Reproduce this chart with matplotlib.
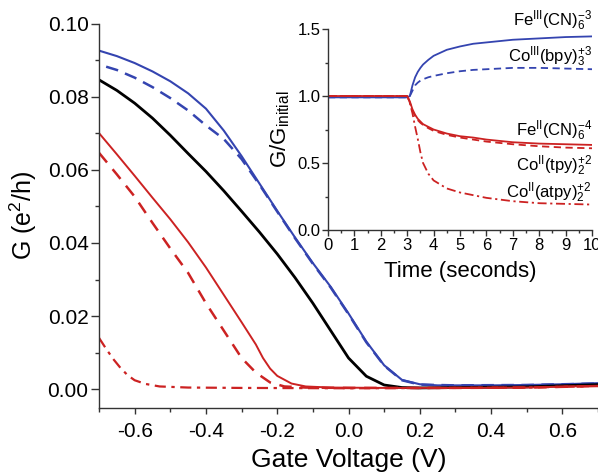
import matplotlib
matplotlib.use('Agg')
import matplotlib.pyplot as plt
from matplotlib.ticker import MultipleLocator, FormatStrFormatter

plt.rcParams['font.family'] = ['Liberation Sans', 'DejaVu Sans']
plt.rcParams['mathtext.fontset'] = 'custom'
plt.rcParams['mathtext.rm'] = 'Liberation Sans'
plt.rcParams['mathtext.it'] = 'Liberation Sans:italic'
plt.rcParams['axes.unicode_minus'] = False

#Main plot data (gate voltage sweeps)
vBlue = [-0.70, -0.65, -0.60, -0.55, -0.50, -0.45, -0.40, -0.35, -0.30, -0.25, -0.20, -0.15, -0.10, -0.05, 0.00, 0.05, 0.10, 0.15, 0.20, 0.25, 0.30, 0.40, 0.50, 0.60, 0.70]
gBlue = [0.0927, 0.0912, 0.0893, 0.0870, 0.0843, 0.0810, 0.0768, 0.0708, 0.0638, 0.0563, 0.0488, 0.0415, 0.0345, 0.0280, 0.0207, 0.0130, 0.0065, 0.0025, 0.0013, 0.0010, 0.0010, 0.0010, 0.0011, 0.0013, 0.0016]
vBlueDash = [-0.68, -0.65, -0.60, -0.55, -0.50, -0.45, -0.40, -0.35, -0.30, -0.25, -0.20, -0.15, -0.10, -0.05, 0.00, 0.05, 0.10, 0.15, 0.20, 0.30, 0.50, 0.70]
gBlueDash = [0.0883, 0.0874, 0.0853, 0.0827, 0.0797, 0.0763, 0.0722, 0.0685, 0.0630, 0.0560, 0.0486, 0.0413, 0.0343, 0.0278, 0.0205, 0.0128, 0.0064, 0.0024, 0.0012, 0.0010, 0.0011, 0.0015]
vBlack = [-0.70, -0.65, -0.60, -0.55, -0.50, -0.45, -0.40, -0.35, -0.30, -0.25, -0.20, -0.15, -0.10, -0.05, 0.00, 0.05, 0.10, 0.15, 0.20, 0.30, 0.40, 0.50, 0.60, 0.70]
gBlack = [0.0847, 0.0818, 0.0783, 0.0742, 0.0695, 0.0645, 0.0596, 0.0543, 0.0487, 0.0430, 0.0370, 0.0305, 0.0235, 0.0160, 0.0085, 0.0035, 0.0011, 0.0004, 0.0003, 0.0004, 0.0005, 0.0006, 0.0009, 0.0012]
vRed = [-0.70, -0.65, -0.60, -0.55, -0.50, -0.45, -0.40, -0.35, -0.30, -0.26, -0.24, -0.22, -0.20, -0.16, -0.12, -0.05, 0.10, 0.30, 0.50, 0.70]
gRed = [0.0701, 0.0643, 0.0584, 0.0524, 0.0465, 0.0402, 0.0333, 0.0258, 0.0183, 0.0122, 0.0085, 0.0056, 0.0036, 0.0015, 0.0007, 0.0004, 0.0003, 0.0003, 0.0004, 0.0009]
vRedDash = [-0.70, -0.65, -0.60, -0.55, -0.50, -0.45, -0.40, -0.35, -0.30, -0.26, -0.22, -0.18, -0.12, 0.00, 0.30, 0.50, 0.70]
gRedDash = [0.0647, 0.0588, 0.0527, 0.0455, 0.0385, 0.0318, 0.0235, 0.0160, 0.0085, 0.0045, 0.0018, 0.0007, 0.0004, 0.0003, 0.0003, 0.0004, 0.0008]
vRedDot = [-0.70, -0.68, -0.66, -0.64, -0.62, -0.60, -0.57, -0.53, -0.45, -0.30, 0.00, 0.30, 0.50, 0.70]
gRedDot = [0.0140, 0.0110, 0.0082, 0.0058, 0.0038, 0.0024, 0.0014, 0.0007, 0.0004, 0.0003, 0.0002, 0.0003, 0.0004, 0.0008]

#Inset data (normalised conductance vs time)
tInset = [0, 0.5, 1, 1.5, 2, 2.5, 2.9, 3.0, 3.1, 3.2, 3.3, 3.4, 3.5, 3.6, 3.8, 4.0, 4.5, 5.0, 5.5, 6.0, 7, 8, 9, 10]
feIII = [0.99, 0.99, 0.99, 0.99, 0.99, 0.99, 0.99, 0.99, 1.00, 1.08, 1.14, 1.18, 1.21, 1.235, 1.27, 1.30, 1.345, 1.37, 1.39, 1.40, 1.42, 1.43, 1.44, 1.445]
coIIIbpy = [0.99, 0.99, 0.99, 0.99, 0.99, 0.99, 0.99, 0.99, 1.00, 1.04, 1.08, 1.10, 1.115, 1.125, 1.14, 1.15, 1.17, 1.185, 1.195, 1.20, 1.21, 1.21, 1.205, 1.20]
feII = [1.0, 1.0, 1.0, 1.0, 1.0, 1.0, 1.0, 1.0, 0.96, 0.90, 0.86, 0.83, 0.81, 0.79, 0.77, 0.75, 0.72, 0.70, 0.69, 0.675, 0.655, 0.645, 0.64, 0.635]
coIItpy = [1.0, 1.0, 1.0, 1.0, 1.0, 1.0, 1.0, 1.0, 0.95, 0.89, 0.85, 0.82, 0.80, 0.785, 0.76, 0.74, 0.71, 0.69, 0.675, 0.66, 0.64, 0.625, 0.615, 0.61]
coIIatpy = [1.0, 1.0, 1.0, 1.0, 1.0, 1.0, 1.0, 1.0, 0.95, 0.87, 0.77, 0.68, 0.58, 0.50, 0.42, 0.37, 0.31, 0.28, 0.26, 0.24, 0.215, 0.20, 0.195, 0.19]

blue = '#3444b0'
red = '#cc2222'

fig = plt.figure(figsize=[5.98, 4.72], dpi=100)
ax = fig.add_axes([0.1656, 0.1356, 0.8344, 0.8136])

ax.plot(vBlue, gBlue, '-', color=blue, lw=1.5)
ax.plot(vBlueDash, gBlueDash, color=blue, lw=1.8, dashes=(5, 3))
ax.plot(vBlack, gBlack, '-', color='black', lw=2.0)
ax.plot(vRed, gRed, '-', color=red, lw=1.4)
ax.plot(vRedDash, gRedDash, color=red, lw=1.8, dashes=(5, 3.5))
ax.plot(vRedDot, gRedDot, color=red, lw=1.6, dashes=(5, 2.5, 1.5, 2.5))

ax.set_xlim(-0.7, 0.7)
ax.set_ylim(-0.0052, 0.100)
ax.xaxis.set_major_locator(MultipleLocator(0.2))
ax.xaxis.set_minor_locator(MultipleLocator(0.1))
ax.yaxis.set_major_locator(MultipleLocator(0.02))
ax.yaxis.set_minor_locator(MultipleLocator(0.01))
ax.xaxis.set_major_formatter(FormatStrFormatter('%.1f'))
ax.yaxis.set_major_formatter(FormatStrFormatter('%.2f'))
ax.spines['top'].set_visible(False)
ax.spines['right'].set_visible(False)
for s in ['left', 'bottom']:
    ax.spines[s].set_linewidth(1.0)
    ax.spines[s].set_color('#333333')
ax.tick_params(axis='y', which='major', length=6, width=1, pad=1.5, labelsize=15, color='#333333')
ax.tick_params(axis='y', which='minor', length=3, width=1, color='#333333')
ax.tick_params(axis='x', which='major', length=4, width=1, pad=6, labelsize=15, color='#333333')
ax.tick_params(axis='x', which='minor', length=3, width=1, color='#333333')
ax.set_xlabel('Gate Voltage (V)', fontsize=19, labelpad=5)
ax.set_ylabel(r'G (e$^2$/h)', fontsize=18, labelpad=6)

#Inset
axIn = fig.add_axes([0.5485, 0.5127, 0.4415, 0.4258])
axIn.set_facecolor('none')
axIn.plot(tInset, feIII, '-', color=blue, lw=1.3)
axIn.plot(tInset, coIIIbpy, color=blue, lw=1.3, dashes=(4, 2.5))
axIn.plot(tInset, feII, '-', color=red, lw=1.3)
axIn.plot(tInset, coIItpy, color=red, lw=1.3, dashes=(4, 2.5))
axIn.plot(tInset, coIIatpy, color=red, lw=1.3, dashes=(5, 2, 1.2, 2))

axIn.set_xlim(0, 10)
axIn.set_ylim(0, 1.5)
axIn.xaxis.set_major_locator(MultipleLocator(1))
axIn.xaxis.set_minor_locator(MultipleLocator(0.5))
axIn.yaxis.set_major_locator(MultipleLocator(0.5))
axIn.yaxis.set_minor_locator(MultipleLocator(0.25))
axIn.yaxis.set_major_formatter(FormatStrFormatter('%.1f'))
axIn.spines['top'].set_visible(False)
axIn.spines['right'].set_visible(False)
for s in ['left', 'bottom']:
    axIn.spines[s].set_linewidth(1.0)
    axIn.spines[s].set_color('#333333')
axIn.tick_params(which='major', length=4, width=1, pad=1.5, labelsize=12, color='#333333')
axIn.tick_params(which='minor', length=2, width=1, color='#333333')
axIn.set_xlabel('Time (seconds)', fontsize=16, labelpad=6)
axIn.set_ylabel(r'G/G$_{\mathrm{initial}}$', fontsize=16, labelpad=4)

labelTexts = [r'Fe$^{\mathrm{III}}$(CN)$_6^{-3}$', r'Co$^{\mathrm{III}}$(bpy)$_3^{+3}$',
              r'Fe$^{\mathrm{II}}$(CN)$_6^{-4}$', r'Co$^{\mathrm{II}}$(tpy)$_2^{+2}$',
              r'Co$^{\mathrm{II}}$(atpy)$_2^{+2}$']
labelY = [1.56, 1.29, 0.74, 0.48, 0.28]
for txt, yy in zip(labelTexts, labelY):
    axIn.text(10.0, yy, txt, ha='right', va='center', fontsize=12, clip_on=False)

plt.savefig('out.png', dpi=100)
